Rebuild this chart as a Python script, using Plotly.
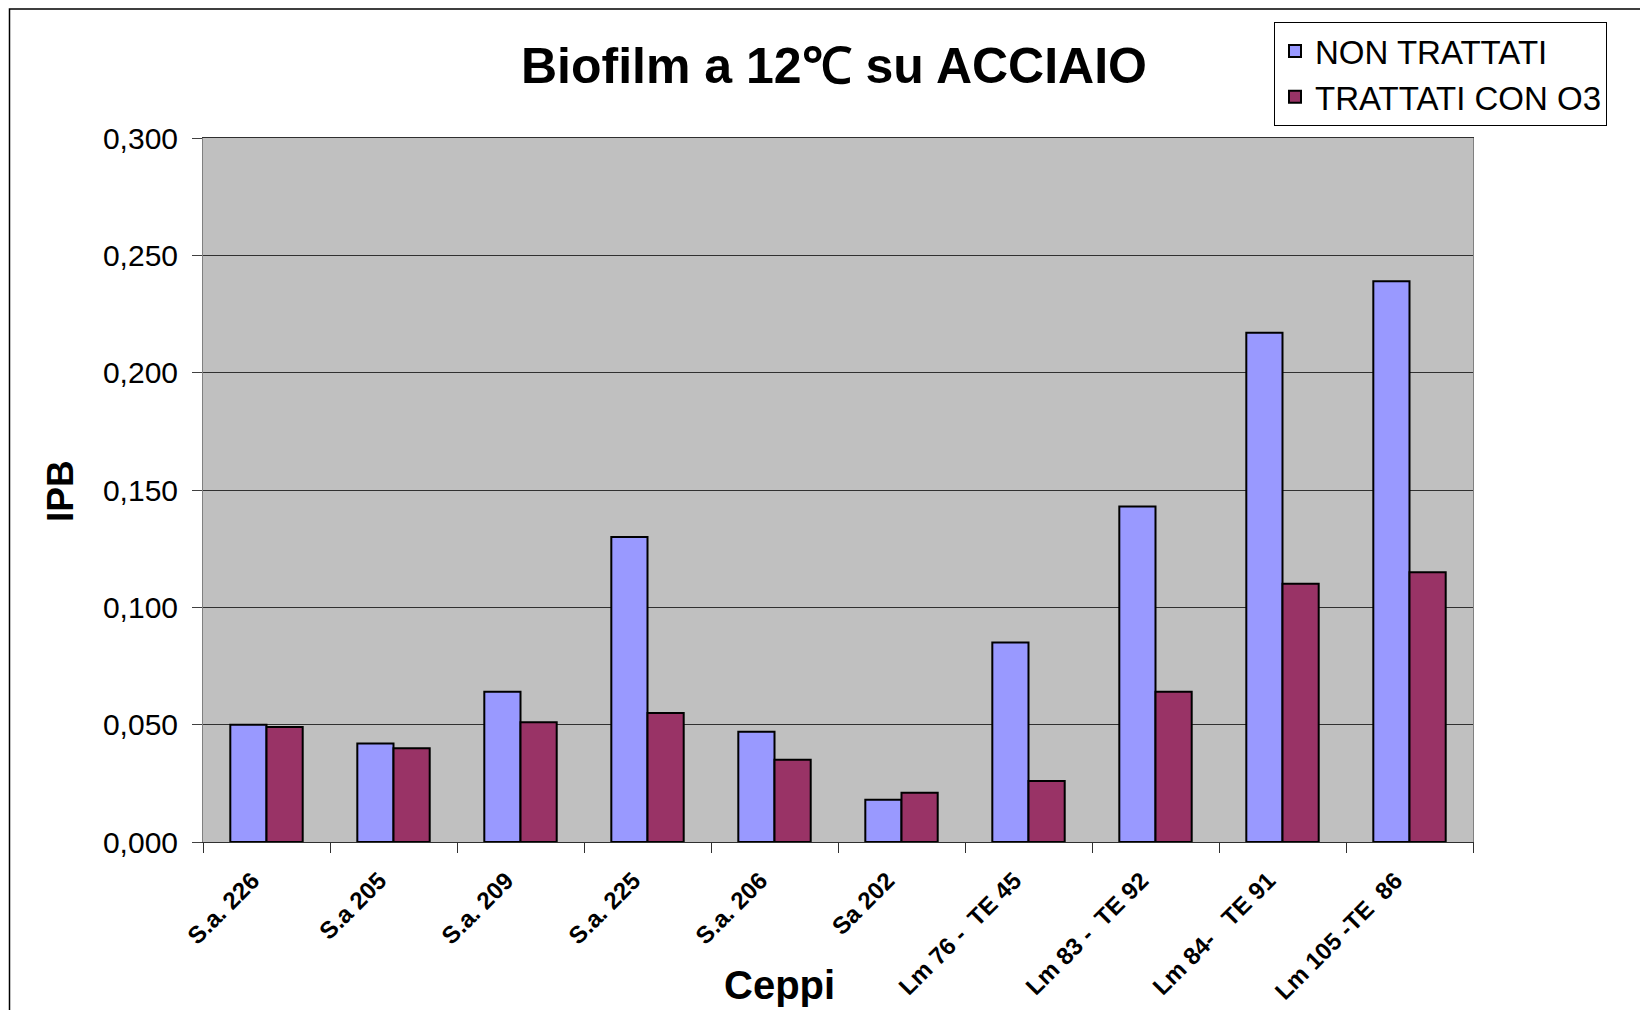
import plotly.graph_objects as go

categories = ["S.a. 226", "S.a 205", "S.a. 209", "S.a. 225", "S.a. 206", "Sa 202",
              "Lm 76 -  TE 45", "Lm 83 -  TE 92", "Lm 84-   TE 91", "Lm 105 -TE  86"]
non_trattati = [0.050, 0.042, 0.064, 0.130, 0.047, 0.018, 0.085, 0.143, 0.217, 0.239]
trattati_o3 = [0.049, 0.040, 0.051, 0.055, 0.035, 0.021, 0.026, 0.064, 0.110, 0.115]
y_ticks = [0.0, 0.05, 0.10, 0.15, 0.20, 0.25, 0.30]

OFF = 8  # page body margin offset
W, H = 1648, 1010
# target pixel positions in the screenshot
PL, PR, PT, PB = 203, 1473, 138, 842
ML, MT = PL - OFF, PT - OFF
MR = W - (PR - OFF)
MB = H - (PB - OFF)
pw, ph = PR - PL, PB - PT

def px2paper_x(px):
    return (px - PL) / pw

def px2paper_y(py):
    return (PB - py) / ph

FONT = "Liberation Sans, Arial"
NB = "\u00a0"
tick_text = [c.replace(" ", NB) + NB * 3 for c in categories]

fig = go.Figure()
fig.add_trace(go.Bar(x=categories, y=non_trattati, name="NON TRATTATI",
                     marker=dict(color="#9999FF", line=dict(color="black", width=2))))
fig.add_trace(go.Bar(x=categories, y=trattati_o3, name="TRATTATI CON O3",
                     marker=dict(color="#993366", line=dict(color="black", width=2))))

fig.update_layout(
    width=W, height=H,
    margin=dict(l=ML, r=MR, t=MT, b=MB),
    paper_bgcolor="white",
    plot_bgcolor="#C0C0C0",
    separators=",.",
    barmode="group",
    bargap=0.43,
    bargroupgap=0,
    font=dict(family=FONT, color="black"),
    title=dict(text="<b>Biofilm a 12℃ su ACCIAIO</b>", x=px2paper_x(834), xref="paper", xanchor="center",
               y=1 - (65 - OFF) / H, yanchor="middle", yref="container",
               font=dict(size=50, family=FONT, color="black")),
    legend=dict(x=px2paper_x(1274), y=px2paper_y(22), xanchor="left", yanchor="top",
                bgcolor="white", bordercolor="black", borderwidth=1,
                font=dict(size=33, family=FONT, color="black"),
                itemsizing="constant", tracegroupgap=0, itemwidth=30),
    showlegend=True,
)

fig.update_xaxes(
    type="category",
    tickmode="array",
    tickvals=categories,
    ticktext=tick_text,
    tickangle=-45,
    tickfont=dict(size=24, family=FONT, color="black", weight="bold"),
    ticks="outside", ticklen=10, tickcolor="#303030", tickwidth=1,
    tickson="boundaries",
    ticklabelstandoff=0,
    showline=True, linecolor="#303030", linewidth=1, mirror=True,
    showgrid=False,
)
fig.update_yaxes(
    range=[0, 0.3],
    tickvals=y_ticks,
    tickformat=".3f",
    tickfont=dict(size=30, family=FONT, color="black"),
    ticks="outside", ticklen=10, tickcolor="#404040",
    ticklabelstandoff=8,
    showline=True, linecolor="#808080", linewidth=1, mirror=True,
    showgrid=True, gridcolor="#303030", gridwidth=1,
    zeroline=False,
)

fig.add_annotation(text="<b>Ceppi</b>", x=px2paper_x(779), y=px2paper_y(985), xref="paper", yref="paper",
                   showarrow=False, font=dict(size=40, family=FONT, color="black"),
                   xanchor="center", yanchor="middle")
fig.add_annotation(text="<b>IPB</b>", x=px2paper_x(60), y=px2paper_y(491), xref="paper", yref="paper",
                   showarrow=False, textangle=-90, font=dict(size=37, family=FONT, color="black"),
                   xanchor="center", yanchor="middle")

fig.add_shape(type="rect", xref="paper", yref="paper",
              x0=px2paper_x(9.5), x1=px2paper_x(1700), y0=px2paper_y(1030), y1=px2paper_y(OFF + 1),
              line=dict(color="black", width=1.5), fillcolor="rgba(0,0,0,0)", layer="below")

fig.write_html("out.html")
